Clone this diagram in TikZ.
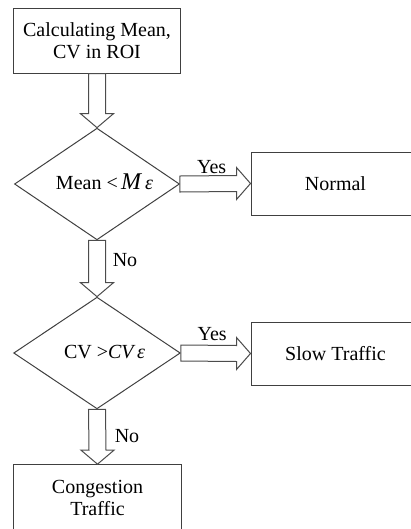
\documentclass[tikz,border=0pt]{standalone}
\usepackage{fontspec}
\setmainfont{Liberation Serif}
\usetikzlibrary{shapes.geometric,calc,positioning}

\tikzset{
  procbox/.style={draw=black!75, line width=0.6pt, align=center, inner sep=0pt,
    minimum width=100.8pt, minimum height=38.4pt},
  decision/.style={draw=black!75, line width=0.6pt, diamond, inner sep=0pt, shape aspect=1.5,
    text height=8pt, text depth=2pt, minimum width=99pt, minimum height=67pt},
  blk/.style={draw=black!70, line width=0.6pt, fill=white, line join=miter},
  lbl/.style={inner sep=1pt}
}

% hollow block arrows: #1 = start point, #2 = tip
\newcommand{\downblock}[2]{%
  \draw[blk] ($(#1)+(-8.5,0)$) -- ($(#2)+(-8.5,-14)$) -- ($(#2)+(-16.5,-14)$) -- (#2)
    -- ($(#2)+(16.5,-14)$) -- ($(#2)+(8.5,-14)$) -- ($(#1)+(8.5,0)$) -- cycle;}
\newcommand{\rightblock}[2]{%
  \draw[blk] ($(#1)+(0,-8)$) -- ($(#2)+(-14,-8)$) -- ($(#2)+(-14,-16)$) -- (#2)
    -- ($(#2)+(-14,16)$) -- ($(#2)+(-14,8)$) -- ($(#1)+(0,8)$) -- cycle;}

\begin{document}
\begin{tikzpicture}[x=0.6pt, y=-0.6pt, every node/.style={font=\fontsize{12}{13.2}\selectfont}]
    % 1. page frame (right and bottom boxes run off the edge)
    \path[use as bounding box] (0,0) rectangle (411,529);
    \clip (0,0) rectangle (411,529);

    % 2. boxes and decisions
    \node[procbox, minimum height=39pt] (calc) at (97,40.5) {Calculating Mean,\\CV in ROI};
    \node[decision] (d1) at (97,184) {\hspace*{9pt}Mean <\,{\Large\itshape M\,{\large ε}}};
    \node[procbox, minimum width=101.4pt, minimum height=37.8pt] (normal) at (335.5,183.5) {Normal};

    \node[decision, minimum width=100pt] (d2) at (97,353) {\hspace*{9pt}CV >{\itshape CV\,ε}};
    \node[procbox, minimum width=101.4pt, minimum height=37.8pt] (slow) at (335.5,353.5) {Slow Traffic};

    \node[procbox, minimum width=101.4pt, minimum height=40pt] (cong) at (97.5,498) {Congestion\\Traffic};

    % 3. block arrows between them
    \downblock{calc.south}{d1.north}
    \rightblock{d1.east}{normal.west}
    \downblock{d1.south}{d2.north}
    \rightblock{d2.east}{slow.west}
    \downblock{d2.south}{cong.north}

    % 4. Yes / No labels
    \node[lbl] (yes1) at ($(d1.east)!0.45!(normal.west)+(0,-17)$) {Yes};
    \node[lbl] (no1) at ($(d1.south)+(28,20)$) {No};
    \node[lbl] (yes2) at ($(d2.east)!0.45!(slow.west)+(0,-19)$) {Yes};
    \node[lbl] (no2) at ($(d2.south)+(30,27)$) {No};
\end{tikzpicture}
\end{document}
